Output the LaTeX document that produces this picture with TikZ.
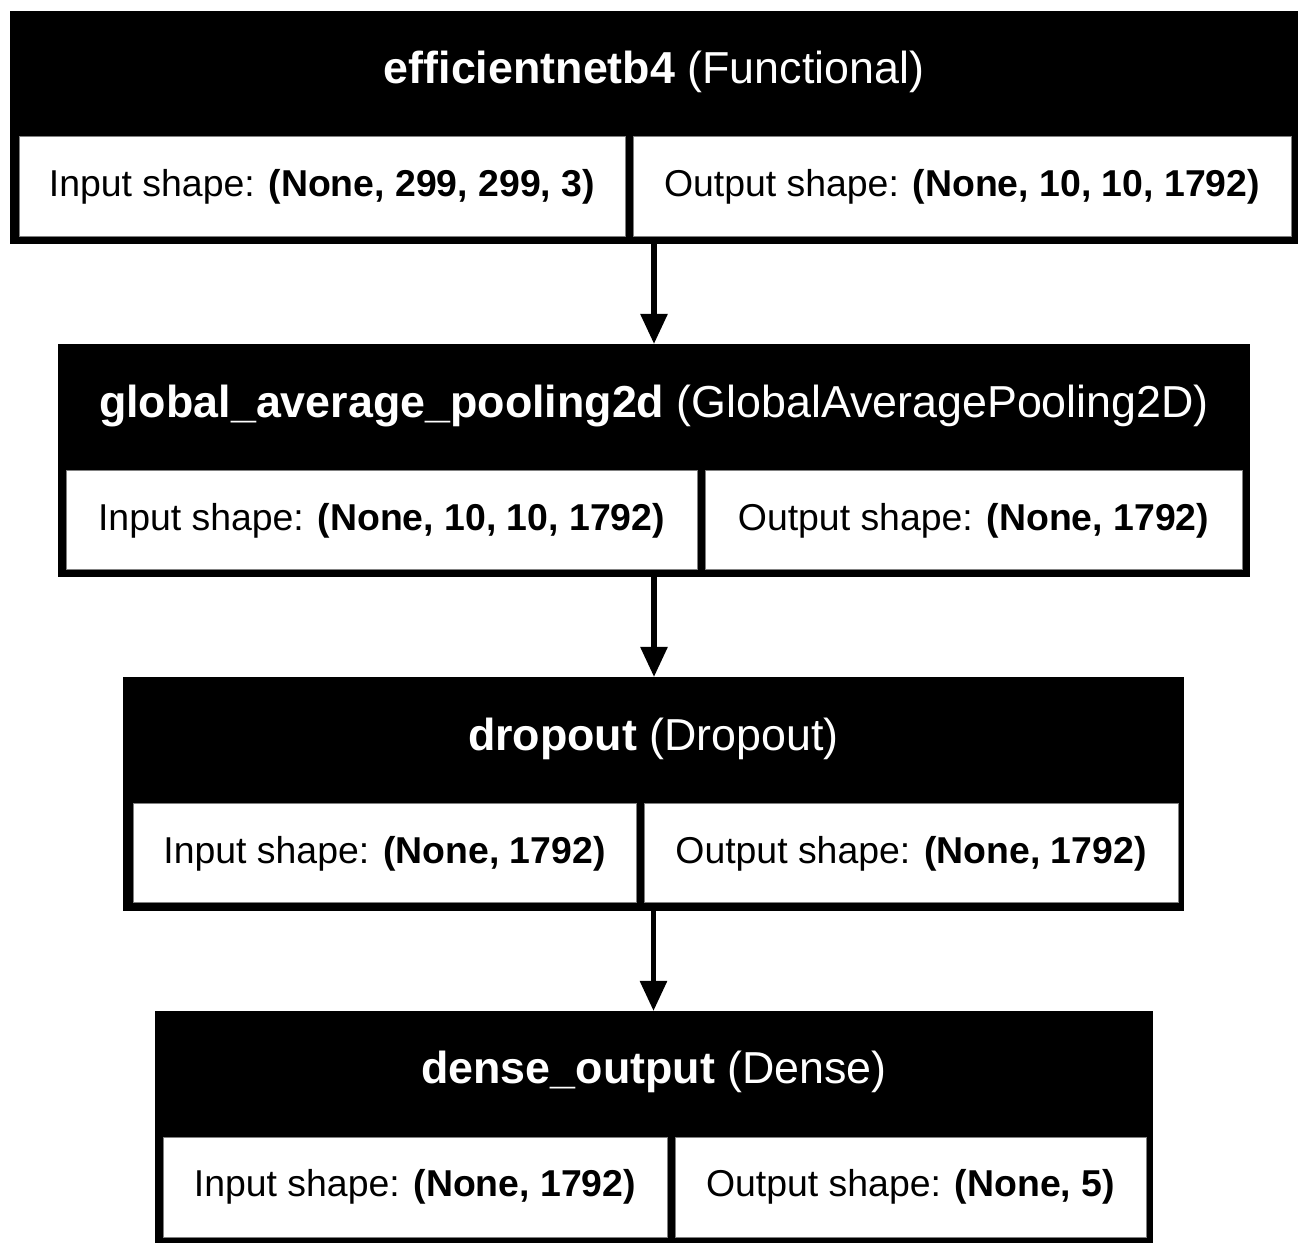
\documentclass[tikz,border=0pt]{standalone}
\usepackage{fontspec}
\setmainfont{Liberation Sans}
\usetikzlibrary{fit,arrows.meta}

\tikzset{
  layer/.style={fill=black,inner sep=0pt,outer sep=0pt},
  cell/.style={fill=white,draw=gray,line width=0.5pt,inner sep=0pt,outer sep=0pt},
  celltext/.style={inner sep=0pt,font=\fontsize{18.7}{22}\selectfont},
  headtext/.style={text=white,inner sep=0pt,font=\fontsize{22.4}{26}\selectfont},
  flow/.style={line width=2.8pt,-{Triangle[width=13pt,length=15pt]}}
}

\begin{document}
\begin{tikzpicture}[x=0.5pt,y=-0.5pt]
\useasboundingbox (0,0) rectangle (1308,1256);

% efficientnetb4
\node[layer,fit={(10,11) (1298,244)}] (effnet) {};
\node[headtext] (effnettitle) at (654,72) {\textbf{efficientnetb4} (Functional)};
\node[cell,fit={(19,137) (625,237)}] (effnetin) {};
\node[cell,fit={(633,137) (1291,237)}] (effnetout) {};
\node[celltext] at (effnetin.center) {Input shape: \textbf{(None, 299, 299, 3)}};
\node[celltext] at (effnetout.center) {Output shape: \textbf{(None, 10, 10, 1792)}};

% global average pooling
\node[layer,fit={(58,344) (1250,577)}] (gap) {};
\node[headtext] (gaptitle) at (654,406) {\textbf{global\_average\_pooling2d} (GlobalAveragePooling2D)};
\node[cell,fit={(66,471) (697,570)}] (gapin) {};
\node[cell,fit={(705,471) (1242,570)}] (gapout) {};
\node[celltext] at (gapin.center) {Input shape: \textbf{(None, 10, 10, 1792)}};
\node[celltext] at (gapout.center) {Output shape: \textbf{(None, 1792)}};

% dropout
\node[layer,fit={(123,677) (1184,911)}] (drop) {};
\node[headtext] (droptitle) at (653.5,739) {\textbf{dropout} (Dropout)};
\node[cell,fit={(133,804) (636,903)}] (dropin) {};
\node[cell,fit={(644,804) (1178,903)}] (dropout) {};
\node[celltext] at (dropin.center) {Input shape: \textbf{(None, 1792)}};
\node[celltext] at (dropout.center) {Output shape: \textbf{(None, 1792)}};

% dense output
\node[layer,fit={(155,1011) (1153,1243)}] (dense) {};
\node[headtext] (densetitle) at (654,1072) {\textbf{dense\_output} (Dense)};
\node[cell,fit={(163,1137) (667,1237)}] (densein) {};
\node[cell,fit={(675,1137) (1146,1237)}] (denseout) {};
\node[celltext] at (densein.center) {Input shape: \textbf{(None, 1792)}};
\node[celltext] at (denseout.center) {Output shape: \textbf{(None, 5)}};

% arrows
\draw[flow] (effnet.south) -- (effnet.south |- gap.north);
\draw[flow] (gap.south) -- (gap.south |- drop.north);
\draw[flow] (drop.south) -- (drop.south |- dense.north);

\end{tikzpicture}
\end{document}
